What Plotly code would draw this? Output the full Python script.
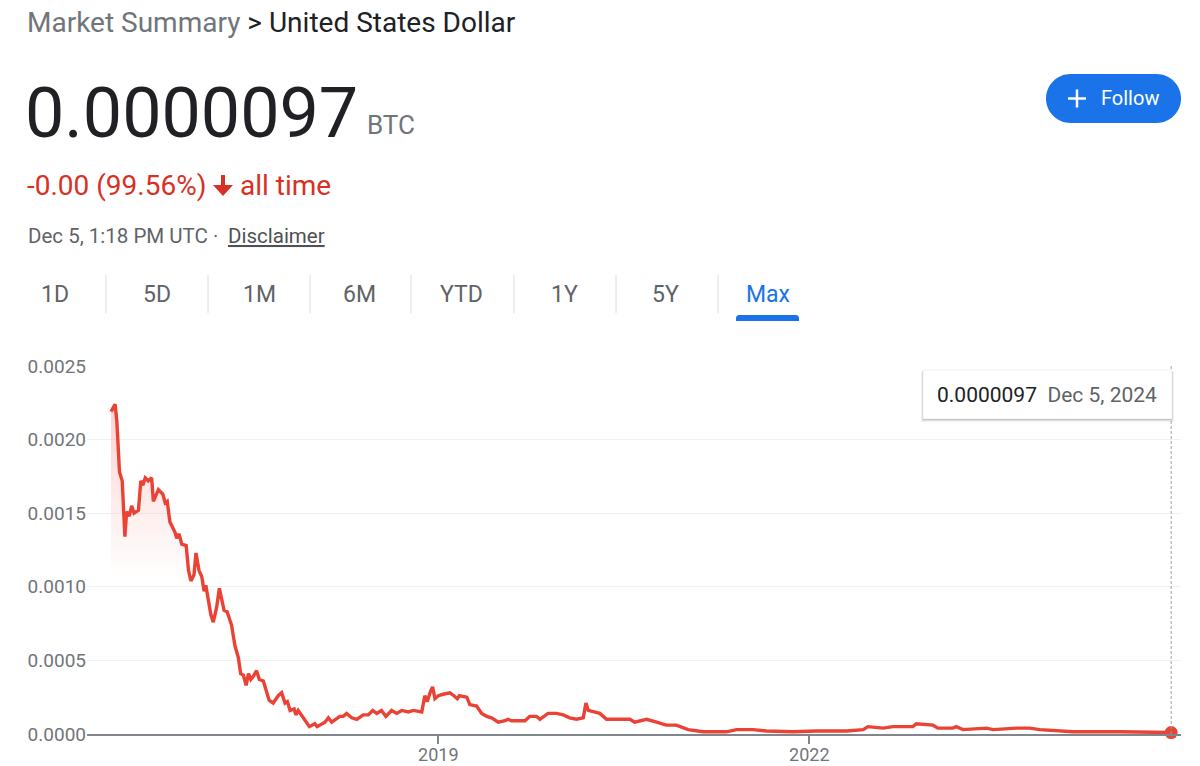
import plotly.graph_objects as go
import pandas as pd

# ---------------- data ----------------
dates = [
    "2016-05-09", "2016-05-21", "2016-05-26", "2016-06-03", "2016-06-11", "2016-06-19",
    "2016-06-24", "2016-07-02", "2016-07-09", "2016-07-16", "2016-07-29", "2016-08-05",
    "2016-08-11", "2016-08-18", "2016-08-27", "2016-09-06", "2016-09-11", "2016-09-26",
    "2016-10-09", "2016-10-16", "2016-10-22", "2016-10-30", "2016-11-14", "2016-11-19",
    "2016-11-26", "2016-12-04", "2016-12-17", "2016-12-24", "2016-12-31", "2017-01-09",
    "2017-01-15", "2017-01-24", "2017-02-01", "2017-02-08", "2017-02-13", "2017-02-20",
    "2017-02-28", "2017-03-07", "2017-03-17", "2017-03-25", "2017-04-01", "2017-04-08",
    "2017-04-17", "2017-04-30", "2017-05-10", "2017-05-20", "2017-05-27", "2017-06-04",
    "2017-06-12", "2017-06-19", "2017-06-26", "2017-07-03", "2017-07-13", "2017-07-21",
    "2017-08-02", "2017-08-12", "2017-08-19", "2017-08-31", "2017-09-15", "2017-09-25",
    "2017-10-05", "2017-10-12", "2017-10-20", "2017-11-01", "2017-11-06", "2017-11-13",
    "2017-11-28", "2017-12-16", "2018-01-01", "2018-01-08", "2018-01-31", "2018-02-10",
    "2018-02-20", "2018-03-06", "2018-03-16", "2018-03-26", "2018-04-05", "2018-04-20",
    "2018-05-05", "2018-05-24", "2018-06-08", "2018-06-21", "2018-07-03", "2018-07-17",
    "2018-07-30", "2018-08-16", "2018-08-31", "2018-09-15", "2018-10-04", "2018-10-19",
    "2018-11-13", "2018-11-22", "2018-11-29", "2018-12-09", "2018-12-15", "2018-12-22",
    "2019-01-01", "2019-01-15", "2019-02-04", "2019-02-16", "2019-02-26", "2019-03-04",
    "2019-03-26", "2019-04-04", "2019-04-24", "2019-05-09", "2019-05-24", "2019-06-07",
    "2019-06-27", "2019-07-17", "2019-07-26", "2019-08-05", "2019-08-25", "2019-09-14",
    "2019-09-28", "2019-10-18", "2019-10-28", "2019-11-21", "2019-12-16", "2020-01-05",
    "2020-01-24", "2020-02-13", "2020-03-04", "2020-03-12", "2020-03-19", "2020-04-02",
    "2020-04-22", "2020-05-12", "2020-06-10", "2020-07-20", "2020-08-03", "2020-09-07",
    "2020-10-07", "2020-11-04", "2020-11-14", "2020-12-04", "2021-01-08", "2021-02-21",
    "2021-05-01", "2021-05-31", "2021-07-19", "2021-08-27", "2021-11-13", "2022-01-22",
    "2022-04-21", "2022-06-09", "2022-06-23", "2022-08-07", "2022-09-05", "2022-11-03",
    "2022-11-13", "2022-12-23", "2023-01-01", "2023-01-16", "2023-03-01", "2023-03-11",
    "2023-03-31", "2023-06-08", "2023-06-28", "2023-09-05", "2023-10-14", "2023-11-13",
    "2024-02-19", "2024-07-06", "2024-12-05",
]
values = [
    0.00219, 0.00224, 0.00213, 0.00178, 0.00172, 0.00134,
    0.00151, 0.00148, 0.00155, 0.00150, 0.00152, 0.00172,
    0.00169, 0.00174, 0.00172, 0.00174, 0.00158, 0.00166,
    0.00163, 0.00157, 0.00158, 0.00144, 0.00137, 0.00133,
    0.00136, 0.00129, 0.00128, 0.00111, 0.00104, 0.00108,
    0.00123, 0.00111, 0.00107, 0.00097, 0.00101, 0.00093,
    0.00081, 0.00076, 0.00086, 0.00099, 0.00092, 0.00084,
    0.00083, 0.00074, 0.00060, 0.00052, 0.00041, 0.00040,
    0.00033, 0.00041, 0.00037, 0.00039, 0.00043, 0.00037,
    0.00036, 0.00028, 0.00023, 0.00021, 0.00026, 0.00028,
    0.00021, 0.00022, 0.00016, 0.00017, 0.00013, 0.00016,
    0.00011, 0.00005, 0.00007, 0.00005, 0.00008, 0.00011,
    0.00008, 0.00010, 0.00012, 0.00012, 0.00014, 0.00011,
    0.00010, 0.00013, 0.00013, 0.00016, 0.00014, 0.00016,
    0.00012, 0.00016, 0.00014, 0.00016, 0.00015, 0.00016,
    0.00015, 0.00026, 0.00022, 0.00029, 0.00032, 0.00024,
    0.00026, 0.00027, 0.00028, 0.00026, 0.00024, 0.00026,
    0.00025, 0.00020, 0.00019, 0.00014, 0.00012, 0.00011,
    0.00008, 0.00009, 0.00010, 0.00009, 0.00009, 0.00009,
    0.00012, 0.00012, 0.00010, 0.00014, 0.00014, 0.00013,
    0.00011, 0.00010, 0.00011, 0.00021, 0.00016, 0.00015,
    0.00014, 0.00010, 0.00010, 0.00010, 0.00008, 0.00010,
    0.00008, 0.00006, 0.00006, 0.00006, 0.00003, 0.000015,
    0.000015, 0.00003, 0.00003, 0.00002, 0.000015, 0.00002,
    0.00002, 0.00003, 0.00005, 0.00004, 0.00005, 0.00005,
    0.00007, 0.00006, 0.00006, 0.00004, 0.00004, 0.00005,
    0.00003, 0.00004, 0.00003, 0.00004, 0.00004, 0.00003,
    0.000015, 0.000015, 0.0000097,
]
y_ticks = [0, 0.0005, 0.0010, 0.0015, 0.0020, 0.0025]
x_tick_vals = ["2019-01-01", "2022-01-01"]
x_tick_text = ["2019", "2022"]
tabs = ["1D", "5D", "1M", "6M", "YTD", "1Y", "5Y", "Max"]
last_value_text = "0.0000097"
last_date_text = "Dec 5, 2024"

# ---------------- layout helpers (pixel -> paper) ----------------
W, H = 1200, 766
L, R, T, B = 87, 19, 366, 32
PW, PH = W - L - R, H - T - B


def px(X):
    return (X - L) / PW


def py(Y):
    return (T + PH - Y) / PH


def path_from(points_cmds):
    out = []
    for cmd, pts in points_cmds:
        coords = " ".join(f"{px(X):.5f},{py(Y):.5f}" for (X, Y) in pts)
        out.append(cmd + " " + coords)
    return " ".join(out) + " Z"


def poly(points):
    cmds = [("M", [points[0]])] + [("L", [p]) for p in points[1:]]
    return path_from(cmds)


def rounded_rect(x0, y0, x1, y1, r, top_only=False):
    k = 0.5523 * r
    rb = 0 if top_only else r
    kb = 0.5523 * rb
    cmds = [
        ("M", [(x0 + r, y0)]),
        ("L", [(x1 - r, y0)]),
        ("C", [(x1 - r + k, y0), (x1, y0 + r - k), (x1, y0 + r)]),
        ("L", [(x1, y1 - rb)]),
        ("C", [(x1, y1 - rb + kb), (x1 - rb + kb, y1), (x1 - rb, y1)]),
        ("L", [(x0 + rb, y1)]),
        ("C", [(x0 + rb - kb, y1), (x0, y1 - rb + kb), (x0, y1 - rb)]),
        ("L", [(x0, y0 + r)]),
        ("C", [(x0, y0 + r - k), (x0 + r - k, y0), (x0 + r, y0)]),
    ]
    return path_from(cmds)


FONT = "Roboto, Arial, sans-serif"
RED_LINE = "#ea4335"
RED_TEXT = "#d93025"
BLUE = "#1a73e8"
DARK = "#202124"
GRAY = "#70757a"
GRAY2 = "#5f6368"

x = pd.to_datetime(dates)

fig = go.Figure()
fig.add_trace(go.Scatter(
    x=x, y=values, mode="lines",
    line=dict(color=RED_LINE, width=3.4),
    fill="tozeroy",
    fillgradient=dict(
        type="vertical",
        colorscale=[[0, "rgba(234,67,53,0)"], [1, "rgba(234,67,53,0.22)"]],
        start=0.00105, stop=0.0022,
    ),
    hoverinfo="skip", showlegend=False,
))
fig.add_trace(go.Scatter(
    x=[x[-1]], y=[values[-1]], mode="markers",
    marker=dict(color=RED_LINE, size=13),
    hoverinfo="skip", showlegend=False, cliponaxis=False,
))

shapes = []
annotations = []


def ann(text, X, Y, size, color, xanchor="left", family=FONT, **kw):
    annotations.append(dict(
        text=text, x=px(X), y=py(Y), xref="paper", yref="paper",
        xanchor=xanchor, yanchor="middle", showarrow=False,
        font=dict(family=family, size=size, color=color, **kw),
    ))


# header
ann(f"<span style='color:{GRAY}'>Market Summary</span> &gt; United States Dollar",
    25, 23, 28, DARK)
ann(last_value_text, 23, 113, 70, DARK)
ann("BTC", 365, 125, 26, GRAY)
ann("-0.00 (99.56%)", 25, 185, 28, RED_TEXT)
ann("all time", 238, 185, 28, RED_TEXT)
ann("Dec 5, 1:18 PM UTC · ", 26, 236, 20.5, GRAY2)
ann("Disclaimer", 226, 236, 20.5, "#4d5156", lineposition="under")

# down arrow
shapes.append(dict(
    type="path", xref="paper", yref="paper", layer="above",
    path=poly([(221, 175), (225, 175), (225, 185), (233, 185),
               (223, 196), (213, 185), (221, 185)]),
    fillcolor=RED_TEXT, line=dict(width=0),
))

# Follow button
shapes.append(dict(
    type="path", xref="paper", yref="paper", layer="above",
    path=rounded_rect(1046, 74, 1181, 123, 24.5),
    fillcolor=BLUE, line=dict(width=0),
))
shapes.append(dict(type="line", xref="paper", yref="paper",
                   x0=px(1068), x1=px(1086), y0=py(98.5), y1=py(98.5),
                   line=dict(color="white", width=2.5)))
shapes.append(dict(type="line", xref="paper", yref="paper",
                   x0=px(1077), x1=px(1077), y0=py(89.5), y1=py(107.5),
                   line=dict(color="white", width=2.5)))
ann("Follow", 1099, 98, 20, "white")

# tabs
tab_centers = [55, 157, 259, 359, 461, 564, 665, 768]
sep_x = [106, 208, 310, 411, 514, 616, 718]
for t, cx in zip(tabs, tab_centers):
    ann(t, cx, 294, 23, BLUE if t == "Max" else GRAY2, xanchor="center")
for sx in sep_x:
    shapes.append(dict(type="line", xref="paper", yref="paper",
                       x0=px(sx), x1=px(sx), y0=py(275), y1=py(313),
                       line=dict(color="#dadce0", width=1)))
shapes.append(dict(
    type="path", xref="paper", yref="paper", layer="above",
    path=rounded_rect(736, 315, 799, 321, 3, top_only=True),
    fillcolor=BLUE, line=dict(width=0),
))

# hover guide line at last point
shapes.append(dict(type="line", xref="x", yref="paper",
                   x0=x[-1], x1=x[-1], y0=0, y1=1,
                   line=dict(color="#9aa0a6", width=1, dash="3px,2px"),
                   layer="above"))

# tooltip box with soft shadow
for off, a in [(3, 0.05), (2, 0.07), (1, 0.09)]:
    shapes.append(dict(
        type="rect", xref="paper", yref="paper", layer="above",
        x0=px(923 - off + 1), x1=px(1172 + off - 1), y0=py(419 + off), y1=py(370 + off - 1),
        fillcolor=f"rgba(0,0,0,{a})", line=dict(width=0)))
shapes.append(dict(
    type="rect", xref="paper", yref="paper", layer="above",
    x0=px(923), x1=px(1172), y0=py(419), y1=py(370),
    fillcolor="white", line=dict(color="rgba(0,0,0,0.06)", width=1)))
ann(f"{last_value_text}  <span style='color:{GRAY2}'>{last_date_text}</span>",
    935, 395, 21, DARK)

fig.update_layout(
    width=W, height=H, autosize=False,
    margin=dict(l=L, r=R, t=T, b=B, pad=0, autoexpand=False),
    paper_bgcolor="white", plot_bgcolor="white",
    font=dict(family=FONT, color=GRAY),
    shapes=shapes, annotations=annotations,
    xaxis=dict(
        range=["2016-02-28", "2025-01-03"],
        automargin=False,
        showgrid=False, zeroline=False,
        showline=True, linecolor="#80868b", linewidth=2,
        ticks="outside", ticklen=8, tickwidth=1.5, tickcolor="#80868b",
        tickvals=pd.to_datetime(x_tick_vals), ticktext=x_tick_text,
        tickfont=dict(size=18, color=GRAY, family=FONT),
        ticklabelstandoff=-5,
        fixedrange=True,
    ),
    yaxis=dict(
        range=[0, 0.0025], tickvals=y_ticks, tickformat=".4f",
        automargin=False,
        showgrid=True, gridcolor="#f1f1f1", gridwidth=1,
        zeroline=False, showline=False, ticks="",
        tickfont=dict(size=19, color=GRAY, family=FONT),
        ticklabelstandoff=0,
        fixedrange=True,
    ),
)

fig.write_html("out.html", config={"displayModeBar": False},
               post_script="document.body.style.margin='0';")
